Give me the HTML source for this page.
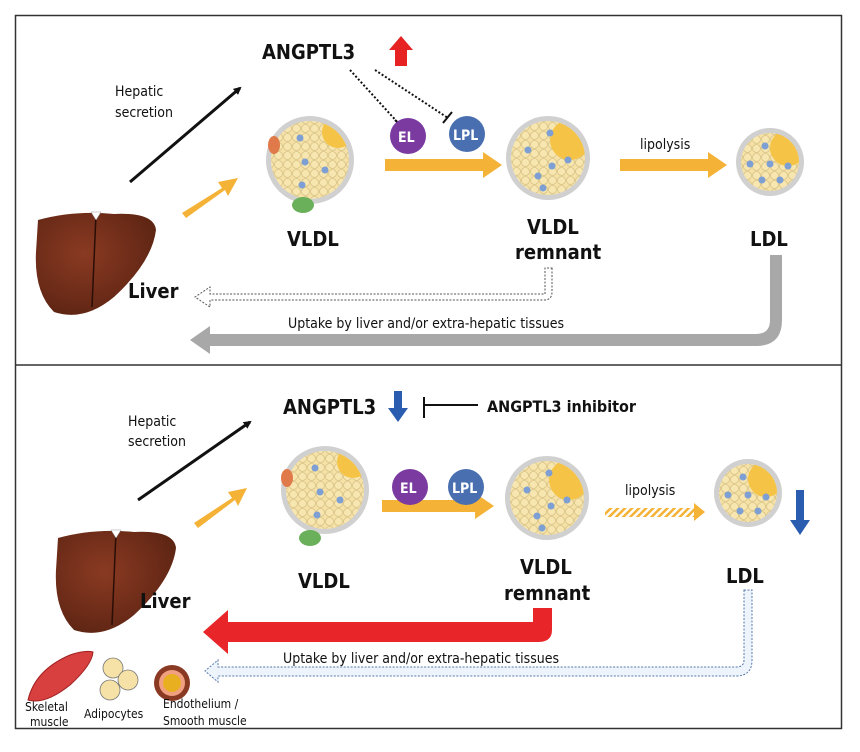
<!DOCTYPE html>
<html><head><meta charset="utf-8"><style>
html,body{margin:0;padding:0;background:#fff;}
svg{display:block;}
text{font-family:"DejaVu Sans Condensed","DejaVu Sans","Liberation Sans",sans-serif;fill:#111;}
</style></head><body>
<svg width="860" height="752" viewBox="0 0 860 752" xmlns="http://www.w3.org/2000/svg">
<defs>
<pattern id="dots" width="9" height="9" patternUnits="userSpaceOnUse">
<rect width="9" height="9" fill="#f6e2a6"/>
<circle cx="4.5" cy="4.5" r="4" fill="#f8e6b0" stroke="#d8c488" stroke-width="0.8"/>
</pattern>
<pattern id="hatch" width="5" height="5" patternUnits="userSpaceOnUse" patternTransform="rotate(45)">
<rect width="5" height="5" fill="#fff"/><rect width="2.5" height="5" fill="#f4b236"/>
</pattern>
<marker id="ah" markerWidth="8" markerHeight="8" refX="6" refY="4" orient="auto" markerUnits="userSpaceOnUse"><path d="M0,0 L8,4 L0,8 z" fill="#111"/></marker>
<radialGradient id="liv" cx="0.4" cy="0.4" r="0.7"><stop offset="0" stop-color="#8a3a22"/><stop offset="1" stop-color="#5a2312"/></radialGradient>
<clipPath id="c39"><circle r="39"/></clipPath>
<clipPath id="c37"><circle r="37"/></clipPath>
<clipPath id="c29"><circle r="29"/></clipPath>
<g id="vldl">
<circle r="44" fill="#d0d0d0"/>
<circle r="39" fill="url(#dots)"/>
<circle cx="28" cy="-28" r="16" fill="#f5c446" clip-path="url(#c39)"/>
<circle cx="-10" cy="-22" r="3.5" fill="#7d9fd4"/><circle cx="-5" cy="2" r="3.5" fill="#7d9fd4"/>
<circle cx="15" cy="10" r="3.5" fill="#7d9fd4"/><circle cx="-8" cy="25" r="3.5" fill="#7d9fd4"/>
</g>
<g id="rem">
<circle r="42" fill="#d0d0d0"/>
<circle r="37" fill="url(#dots)"/>
<circle cx="22" cy="-18" r="20" fill="#f5c446" clip-path="url(#c37)"/>
<circle cx="-20" cy="-8" r="3.5" fill="#7d9fd4"/><circle cx="2" cy="-25" r="3.5" fill="#7d9fd4"/>
<circle cx="4" cy="8" r="3.5" fill="#7d9fd4"/><circle cx="20" cy="2" r="3.5" fill="#7d9fd4"/>
<circle cx="-10" cy="18" r="3.5" fill="#7d9fd4"/><circle cx="-5" cy="30" r="3.5" fill="#7d9fd4"/>
</g>
<g id="ldl">
<circle r="34" fill="#d0d0d0"/>
<circle r="29" fill="url(#dots)"/>
<circle cx="18" cy="-14" r="18" fill="#f5c446" clip-path="url(#c29)"/>
<circle cx="-5" cy="-16" r="3.5" fill="#7d9fd4"/><circle cx="-20" cy="2" r="3.5" fill="#7d9fd4"/>
<circle cx="0" cy="2" r="3.5" fill="#7d9fd4"/><circle cx="18" cy="4" r="3.5" fill="#7d9fd4"/>
<circle cx="-8" cy="18" r="3.5" fill="#7d9fd4"/><circle cx="10" cy="18" r="3.5" fill="#7d9fd4"/>
</g>
<g id="liver">
<path d="M4,8 Q40,-2 80,2 Q120,0 122,18 Q118,50 80,85 Q50,110 20,100 Q0,80 2,40 Z" fill="url(#liv)"/>
<path d="M62,2 L58,95" stroke="#2a0e06" stroke-width="1.5" fill="none"/>
<path d="M57,0 L67,0 L62,8z" fill="#fff" stroke="#999" stroke-width="0.5"/>
</g>
</defs>

<rect x="15.5" y="15.5" width="826" height="713" fill="none" stroke="#333" stroke-width="1.5"/>
<line x1="15" y1="365" x2="842" y2="365" stroke="#333" stroke-width="1.5"/>

<!-- TOP PANEL -->
<text x="262" y="59" font-size="20" font-weight="bold">ANGPTL3</text>
<path d="M395,66 L395,50 L389,50 L401,36 L413,50 L407,50 L407,66z" fill="#e62222"/>
<text x="115" y="96" font-size="14">Hepatic</text>
<text x="115" y="117" font-size="14">secretion</text>
<line x1="130" y1="182" x2="240" y2="88" stroke="#111" stroke-width="3" marker-end="url(#ah)"/>
<use href="#liver" x="34" y="212"/>
<text x="128" y="298" font-size="20" font-weight="bold">Liver</text>
<path d="M182,213 L222,188 L218,182 L238,178 L228,196 L225,190 L186,218z" fill="#f4b236"/>
<use href="#vldl" x="310" y="160"/>
<ellipse cx="274" cy="145" rx="6" ry="9" fill="#e07a4a"/>
<ellipse cx="303" cy="205" rx="11" ry="8" fill="#6ab05a"/>
<line x1="350" y1="70" x2="400" y2="125" stroke="#111" stroke-width="2" stroke-dasharray="2,2"/>
<line x1="395" y1="120" x2="405" y2="130" stroke="#111" stroke-width="2"/>
<line x1="375" y1="70" x2="448" y2="118" stroke="#111" stroke-width="2" stroke-dasharray="2,2"/>
<line x1="443" y1="123" x2="452" y2="112" stroke="#111" stroke-width="2"/>
<rect x="385" y="159" width="100" height="12" fill="#f4b236"/>
<path d="M483,152 L502,165 L483,178z" fill="#f4b236"/>
<circle cx="408" cy="136" r="18" fill="#7a3aa0"/><text x="398" y="142" font-size="14" font-weight="bold" style="fill:#fff">EL</text>
<circle cx="467" cy="134" r="18" fill="#4a6fb0"/><text x="453" y="140" font-size="14" font-weight="bold" style="fill:#fff">LPL</text>
<use href="#rem" x="548" y="158"/>
<text x="640" y="149" font-size="14">lipolysis</text>
<rect x="620" y="159" width="90" height="12" fill="#f4b236"/>
<path d="M708,152 L727,165 L708,178z" fill="#f4b236"/>
<use href="#ldl" x="770" y="162"/>
<text x="287" y="246" font-size="20" font-weight="bold">VLDL</text>
<text x="527" y="234" font-size="20" font-weight="bold">VLDL</text>
<text x="515" y="259" font-size="20" font-weight="bold">remnant</text>
<text x="750" y="246" font-size="20" font-weight="bold">LDL</text>
<path d="M552,268 L552,292 Q552,300 544,300 L210,300 L210,307 L195,297 L210,287 L210,294 L545,294 L545,268z" fill="#fff" stroke="#555" stroke-width="1" stroke-dasharray="2,1.5"/>
<text x="288" y="328" font-size="14">Uptake by liver and/or extra-hepatic tissues</text>
<path d="M770,255 L782,255 L782,320 Q782,346 756,346 L210,346 L210,354 L190,340 L210,326 L210,334 L756,334 Q770,334 770,320z" fill="#a8a8a8"/>

<!-- BOTTOM PANEL -->
<text x="283" y="414" font-size="20" font-weight="bold">ANGPTL3</text>
<path d="M394,391 L402,391 L402,408 L408,408 L398,422 L388,408 L394,408z" fill="#2a5cb0"/>
<line x1="424" y1="397" x2="424" y2="418" stroke="#111" stroke-width="2"/>
<line x1="424" y1="405" x2="478" y2="405" stroke="#111" stroke-width="2"/>
<text x="487" y="412" font-size="16" font-weight="bold">ANGPTL3 inhibitor</text>
<text x="128" y="426" font-size="14">Hepatic</text>
<text x="128" y="446" font-size="14">secretion</text>
<line x1="138" y1="500" x2="250" y2="422" stroke="#111" stroke-width="3" marker-end="url(#ah)"/>
<use href="#liver" x="54" y="530"/>
<text x="140" y="608" font-size="20" font-weight="bold">Liver</text>
<path d="M194,523 L232,498 L228,492 L247,488 L238,506 L235,500 L198,528z" fill="#f4b236"/>
<use href="#vldl" x="325" y="490"/>
<ellipse cx="287" cy="478" rx="6" ry="9" fill="#e07a4a"/>
<ellipse cx="310" cy="538" rx="11" ry="8" fill="#6ab05a"/>
<rect x="382" y="500" width="95" height="12" fill="#f4b236"/>
<path d="M475,493 L494,506 L475,519z" fill="#f4b236"/>
<circle cx="410" cy="487" r="18" fill="#7a3aa0"/><text x="400" y="493" font-size="14" font-weight="bold" style="fill:#fff">EL</text>
<circle cx="466" cy="487" r="18" fill="#4a6fb0"/><text x="452" y="493" font-size="14" font-weight="bold" style="fill:#fff">LPL</text>
<use href="#rem" x="547" y="498"/>
<text x="625" y="495" font-size="14">lipolysis</text>
<rect x="605" y="508" width="90" height="9" fill="url(#hatch)"/>
<path d="M694,503 L705,512 L694,521z" fill="#f4b236"/>
<use href="#ldl" x="748" y="493"/>
<path d="M796,490 L804,490 L804,520 L810,520 L800,535 L790,520 L796,520z" fill="#2a5cb0"/>
<text x="298" y="588" font-size="20" font-weight="bold">VLDL</text>
<text x="520" y="574" font-size="20" font-weight="bold">VLDL</text>
<text x="504" y="600" font-size="20" font-weight="bold">remnant</text>
<text x="726" y="583" font-size="20" font-weight="bold">LDL</text>
<path d="M533,608 L552,608 L552,630 Q552,642 538,642 L228,642 L228,654 L203,632 L228,610 L228,622 L533,622z" fill="#e8262a"/>
<text x="283" y="663" font-size="14">Uptake by liver and/or extra-hepatic tissues</text>
<path d="M744,590 L752,590 L752,660 Q752,676 736,676 L218,676 L218,682 L205,671 L218,660 L218,667 L736,667 Q744,667 744,660z" fill="#eef4fc" stroke="#5577aa" stroke-width="1" stroke-dasharray="2,1.5"/>
<!-- icons -->
<path d="M28,700 Q35,670 70,655 Q85,650 93,652 Q92,665 70,685 Q45,705 28,700z" fill="#d84040" stroke="#a02020" stroke-width="1"/>
<circle cx="113" cy="668" r="10" fill="#f6e2a6" stroke="#777" stroke-width="0.8"/>
<circle cx="128" cy="680" r="10" fill="#f6e2a6" stroke="#777" stroke-width="0.8"/>
<circle cx="110" cy="690" r="10" fill="#f6e2a6" stroke="#777" stroke-width="0.8"/>
<circle cx="172" cy="683" r="18" fill="#8a3a22"/>
<circle cx="172" cy="683" r="13" fill="#f0a080"/>
<circle cx="172" cy="683" r="9" fill="#e8b020"/>
<text x="25" y="711" font-size="12">Skeletal</text>
<text x="30" y="726" font-size="12">muscle</text>
<text x="84" y="718" font-size="12">Adipocytes</text>
<text x="163" y="708" font-size="12">Endothelium /</text>
<text x="163" y="725" font-size="12">Smooth muscle</text>
</svg>
</body></html>
